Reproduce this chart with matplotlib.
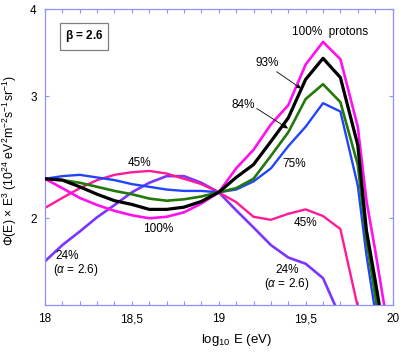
import matplotlib
matplotlib.use('Agg')
import matplotlib.pyplot as plt
from matplotlib.ticker import FixedLocator, MultipleLocator, NullLocator, FixedFormatter

plt.rcParams['font.family'] = ['Liberation Sans', 'DejaVu Sans']
plt.rcParams['mathtext.fontset'] = 'custom'
plt.rcParams['mathtext.rm'] = 'Liberation Sans'
plt.rcParams['mathtext.it'] = 'Liberation Sans:italic'
plt.rcParams['mathtext.bf'] = 'Liberation Sans:bold'

log_e = [18.0, 18.1, 18.2, 18.3, 18.4, 18.5, 18.6, 18.7, 18.8, 18.9, 19.0,
         19.1, 19.2, 19.3, 19.4, 19.5, 19.6, 19.7, 19.8, 19.85, 19.9, 19.95, 20.0]

p100 = [2.28, 2.21, 2.14, 2.09, 2.05, 2.02, 2.00, 2.01, 2.04, 2.10, 2.18,
        2.36, 2.51, 2.73, 2.91, 3.33, 3.59, 3.39, 2.71, 2.12, 1.80, 1.51, 1.30]
p93 = [2.28, 2.27, 2.22, 2.166, 2.12, 2.094, 2.06, 2.06, 2.075, 2.115, 2.18,
       2.29, 2.39, 2.58, 2.79, 3.17, 3.40, 3.19, 2.55, 1.92, 1.63, 1.37, 1.20]
p84 = [2.28, 2.27, 2.25, 2.22, 2.19, 2.166, 2.135, 2.12, 2.13, 2.15, 2.18,
       2.21, 2.28, 2.46, 2.66, 2.97, 3.12, 2.94, 2.39, 1.86, 1.55, 1.30, 1.20]
p75 = [2.28, 2.30, 2.31, 2.29, 2.27, 2.24, 2.22, 2.20, 2.19, 2.19, 2.18,
       2.20, 2.26, 2.36, 2.54, 2.71, 2.93, 2.85, 2.23, 1.77, 1.47, 1.30, 1.20]
p45 = [2.07, 2.14, 2.21, 2.27, 2.31, 2.33, 2.34, 2.32, 2.28, 2.24, 2.18,
       2.11, 2.01, 1.99, 2.03, 2.06, 2.015, 1.93, 1.49, 1.35, 1.25, 1.15, 1.10]
p24 = [1.734, 1.83, 1.914, 2.007, 2.09, 2.18, 2.25, 2.30, 2.30, 2.25, 2.18,
       2.054, 1.94, 1.83, 1.756, 1.72, 1.64, 1.44, 1.30, 1.25, 1.20, 1.15, 1.10]

x_ticks = [18.0, 18.5, 19.0, 19.5, 20.0]
x_tick_labels = ['18', '18,5', '19', '19,5', '20']
y_ticks = [2, 3, 4]
y_tick_labels = ['2', '3', '4']

fig = plt.figure(figsize=(4.09, 3.55), dpi=100)
ax = fig.add_axes([0.110, 0.1408, 0.8497, 0.833])

ax.plot(log_e, p24, color='#7a35ff', lw=1.9, zorder=2)
ax.plot(log_e, p45, color='#ff1a96', lw=1.7, zorder=2)
ax.plot(log_e, p75, color='#2244ff', lw=1.7, zorder=3)
ax.plot(log_e, p84, color='#23780a', lw=1.9, zorder=3)
ax.plot(log_e, p93, color='#000000', lw=2.3, zorder=4)
ax.plot(log_e, p100, color='#ff10f0', lw=1.9, zorder=3)

ax.set_yscale('log')
ax.set_xlim(18, 20)
ax.set_ylim(1.5, 4.0)

ax.xaxis.set_major_locator(FixedLocator(x_ticks))
ax.xaxis.set_major_formatter(FixedFormatter(x_tick_labels))
ax.xaxis.set_minor_locator(MultipleLocator(0.1))
ax.yaxis.set_major_locator(FixedLocator(y_ticks))
ax.yaxis.set_major_formatter(FixedFormatter(y_tick_labels))
ax.yaxis.set_minor_locator(NullLocator())

spine_col = '#9090ff'
for s in ax.spines.values():
    s.set_color(spine_col)
    s.set_linewidth(0.9)
ax.tick_params(which='both', direction='in', top=True, right=True,
               length=2.6, width=0.8, color=spine_col, labelsize=8.5, pad=6)

ax.set_xlabel('log$_{10}$ E (eV)', fontsize=9.5)
ax.xaxis.set_label_coords(0.55, -0.09)
ax.set_ylabel('$\\Phi$(E) $\\times$ E$^{3}$ (10$^{24}$ eV$^{2}$m$^{-2}$s$^{-1}$sr$^{-1}$)', fontsize=8.8)
ax.yaxis.set_label_coords(-0.075, 0.49)

fs = 8.5
ax.text(84/409, 1-36.5/355, '$\\mathbf{\\beta}$ = 2.6', transform=fig.transFigure,
        ha='center', va='center', fontsize=8.5, fontweight='bold',
        bbox=dict(boxstyle='square,pad=0.45', fc='white', ec='#808080', lw=0.9))

def ftext(x, y, s, **kw):
    fig.text(x/409, 1-y/355, s, ha=kw.pop('ha', 'center'), va='center', fontsize=fs, **kw)

ftext(330, 32.5, '100%  protons')
ftext(266.7, 63.5, '93%')
ftext(243.5, 104.5, '84%')
ftext(294.5, 163.5, '75%')
ftext(139.7, 162.5, '45%')
ftext(158, 229.5, '100%')
ftext(55, 256, '24%', ha='left')
ftext(53, 269.5, '($\\alpha$ = 2.6)', ha='left')
ftext(305, 222.5, '45%')
ftext(287, 270, '24%')
ftext(286.7, 283.5, '($\\alpha$ = 2.6)')

def farrow(x0, y0, x1, y1):
    ax.annotate('', xy=(x1/409, 1-y1/355), xytext=(x0/409, 1-y0/355),
                xycoords='figure fraction', textcoords='figure fraction',
                arrowprops=dict(arrowstyle='-|>', color='black', lw=0.6,
                                mutation_scale=6, shrinkA=0, shrinkB=0), zorder=6)

farrow(276.7, 71.7, 301, 88.5)
farrow(256.7, 108.5, 288, 128.5)

fig.savefig('out.png', dpi=100)
